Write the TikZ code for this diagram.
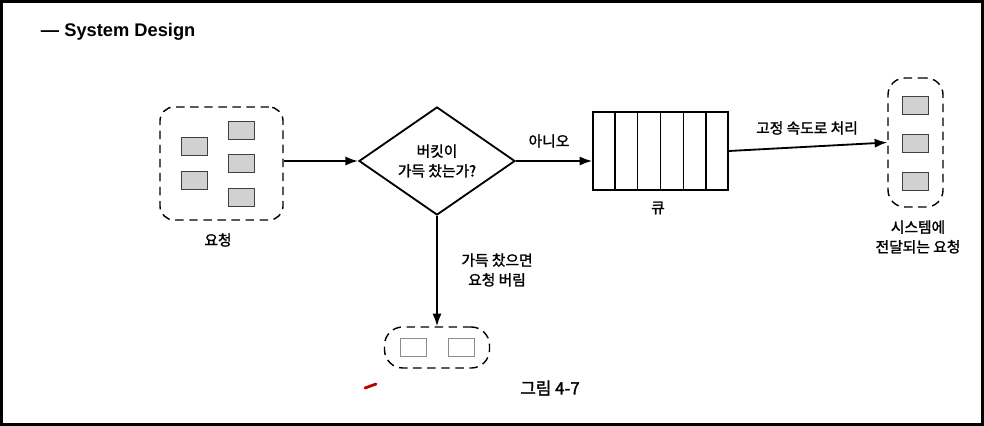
\documentclass[tikz,border=0pt]{standalone}
\usepackage{fontspec}
\setmainfont{Noto Sans CJK KR}[FakeBold=1.6]
\newfontfamily\titlefont{Liberation Sans}
\usetikzlibrary{arrows.meta,positioning,calc,shapes.geometric}

\begin{document}
\begin{tikzpicture}[
  x=0.025cm, y=-0.025cm,
  font=\fontsize{10.5}{14}\selectfont,
  >={Latex[length=9pt,width=6.5pt]},
  flow/.style={->, line width=1.3pt},
  group/.style={draw, dash pattern=on 6pt off 4pt, line width=1pt, rounded corners=10pt, inner sep=0pt},
  req/.style={draw=black!75, fill=black!18, line width=0.6pt, minimum width=0.65cm, minimum height=0.45cm, inner sep=0pt},
  lost/.style={req, fill=white, draw=black!45},
  lbl/.style={align=center, inner sep=1pt}
]
\useasboundingbox (0,0) rectangle (984,426);
\fill[black] (0,0) rectangle (984,426);
\fill[white] (3,3) rectangle (981,423);

\node[font=\titlefont\bfseries\fontsize{13}{15}\selectfont, anchor=west] (title) at (36,32) {— System Design};

% incoming requests
\node[group, minimum width=3.075cm, minimum height=2.825cm] (input) at (221.5,163.5) {};
\node[req] (r1) at (194,146) {};
\node[req] (r2) at (194,180) {};
\node[req] (r3) at (241,130.5) {};
\node[req] (r4) at (241,163.5) {};
\node[req] (r5) at (241,197.5) {};
\node[lbl] (inputlbl) at (218,240) {요청};

\node[draw, diamond, line width=1.3pt, minimum width=3.9cm, minimum height=2.7cm, aspect=1.43, inner sep=0pt, align=center] (full) at (437,161) {버킷이\\가득 찼는가?};

\node[draw, line width=1.1pt, minimum width=3.375cm, minimum height=1.95cm, inner sep=0pt] (queue) at (660.5,151) {};
\foreach \i in {1,...,5}
  \draw[line width=1pt] ($(queue.north west)!\i/6!(queue.north east)$) -- ($(queue.south west)!\i/6!(queue.south east)$);
\node[lbl] (queuelbl) at (658,208) {큐};

% requests passed on to the system
\node[group, rounded corners=12pt, minimum width=1.375cm, minimum height=3.225cm] (system) at (915.5,142.5) {};
\node[req] (s1) at (915,105.5) {};
\node[req] (s2) at (915,143) {};
\node[req] (s3) at (915,181) {};
\node[lbl] (systemlbl) at (918,237) {시스템에\\전달되는 요청};

% dropped requests
\node[group, rounded corners=13pt, minimum width=2.625cm, minimum height=1.025cm] (drop) at (437,347.5) {};
\node[lost] (d1) at (413.5,347) {};
\node[lost] (d2) at (461.5,347) {};

\draw[flow] (input.east |- full.west) -- (full.west);
\draw[flow] (full.east) -- (full.east -| queue.west);
\draw[flow] (queue.east) -- (system.west);
\draw[flow] (full.south) -- (full.south |- drop.north);

\node[lbl] (nolbl) at (549,141) {아니오};
\node[lbl] (ratelbl) at (807,128) {고정 속도로 처리};
\node[lbl] (droplbl) at (497,270) {가득 찼으면\\요청 버림};
\node[lbl, font=\fontsize{12}{14}\selectfont] (caption) at (550,388) {그림 4-7};

\draw[red!75!black, line width=2pt, line cap=round] (365,388) -- (376,384);
\end{tikzpicture}
\end{document}
